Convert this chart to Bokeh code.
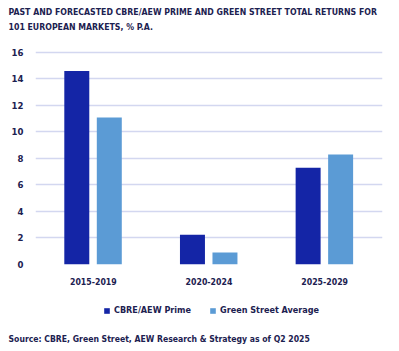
from bokeh.plotting import figure
from bokeh.models import ColumnDataSource, Range1d, Legend, LegendItem, Label, FactorRange
from bokeh.layouts import column
from bokeh.transform import dodge
from bokeh.embed import file_html
from bokeh.resources import INLINE

periods = ["2015-2019", "2020-2024", "2025-2029"]
cbre_prime = [14.6, 2.25, 7.3]
green_street = [11.1, 0.9, 8.3]
y_ticks = [0, 2, 4, 6, 8, 10, 12, 14, 16]
series_names = ["CBRE/AEW Prime", "Green Street Average"]
title_lines = ["PAST AND FORECASTED CBRE/AEW PRIME AND GREEN STREET TOTAL RETURNS FOR",
               "101 EUROPEAN MARKETS, % P.A."]
source_note = "Source: CBRE, Green Street, AEW Research & Strategy as of Q2 2025"

FONT = "DejaVu Sans Condensed"
TXT = "#1c2150"
DARK = "#1425a6"
LIGHT = "#5b9bd5"

src = ColumnDataSource(dict(period=periods, cbre=cbre_prime, gs=green_street))

# ---- header ----
head = figure(width=399, height=44, x_axis_type=None, y_axis_type=None,
              output_backend="svg", toolbar_location=None, frame_align=False,
              min_border=0, x_range=Range1d(0, 1), y_range=Range1d(0, 1))
head.outline_line_color = None
head.grid.visible = False
for txt, yy in zip(title_lines, [32.5, 17.5]):
    head.add_layout(Label(x=8, y=yy, x_units="screen", y_units="screen", text=txt,
                          text_font=FONT, text_font_style="bold", text_font_size="8.7px",
                          text_color=TXT, text_baseline="middle"))

# ---- main chart ----
p = figure(x_range=FactorRange(*periods, range_padding=0), y_range=Range1d(0, 16.3),
           width=399, height=247, output_backend="svg", toolbar_location=None,
           frame_align=False,
           min_border_left=35, min_border_right=17, min_border_top=4, min_border_bottom=27)
p.outline_line_color = None

r1 = p.vbar(x=dodge("period", -0.143, range=p.x_range), top="cbre", width=0.216,
            source=src, color=DARK, line_color=None)
r2 = p.vbar(x=dodge("period", 0.138, range=p.x_range), top="gs", width=0.216,
            source=src, color=LIGHT, line_color=None)

p.xgrid.grid_line_color = None
p.ygrid.grid_line_color = "#d3d7f0"
p.ygrid.grid_line_width = 1.3
p.yaxis.ticker = y_ticks
p.yaxis.axis_line_color = None
p.yaxis.major_tick_line_color = None
p.yaxis.minor_tick_line_color = None
p.yaxis.major_tick_out = 0
p.yaxis.major_tick_in = 0
p.yaxis.major_label_standoff = 12
p.yaxis.major_label_text_font = FONT
p.yaxis.major_label_text_font_style = "bold"
p.yaxis.major_label_text_font_size = "9.5px"
p.yaxis.major_label_text_color = TXT

p.xaxis.axis_line_color = None
p.xaxis.major_tick_line_color = None
p.xaxis.major_tick_out = 0
p.xaxis.major_tick_in = 0
p.xaxis.major_label_standoff = 13
p.xaxis.major_label_text_font = FONT
p.xaxis.major_label_text_font_style = "bold"
p.xaxis.major_label_text_font_size = "8.7px"
p.xaxis.major_label_text_color = TXT

# ---- footer: legend + source ----
foot = figure(width=399, height=60, x_axis_type=None, y_axis_type=None,
              x_range=FactorRange(*periods), y_range=Range1d(-10, -9),
              output_backend="svg", toolbar_location=None, min_border=0, frame_align=False)
foot.outline_line_color = None
foot.grid.visible = False
# zero-size proxies: only their legend swatches show
f1 = foot.vbar(x="period", top="cbre", bottom="cbre", width=0, source=src,
               color=DARK, line_color=None)
f2 = foot.vbar(x="period", top="gs", bottom="gs", width=0, source=src,
               color=LIGHT, line_color=None)

legend = Legend(items=[LegendItem(label=series_names[0], renderers=[f1]),
                       LegendItem(label=series_names[1], renderers=[f2])],
                orientation="horizontal", location=(103, 36), border_line_color=None,
                background_fill_alpha=0, glyph_width=7, glyph_height=7, spacing=18,
                label_standoff=4, label_height=10, margin=0, padding=0)
legend.label_text_font = FONT
legend.label_text_font_style = "bold"
legend.label_text_font_size = "9px"
legend.label_text_color = TXT
foot.add_layout(legend, "center")

foot.add_layout(Label(x=8, y=13, x_units="screen", y_units="screen", text=source_note,
                      text_font=FONT, text_font_style="bold", text_font_size="8.6px",
                      text_color=TXT, text_baseline="middle"))

layout = column(head, p, foot, spacing=0)
open("out.html", "w").write(file_html(layout, INLINE))
